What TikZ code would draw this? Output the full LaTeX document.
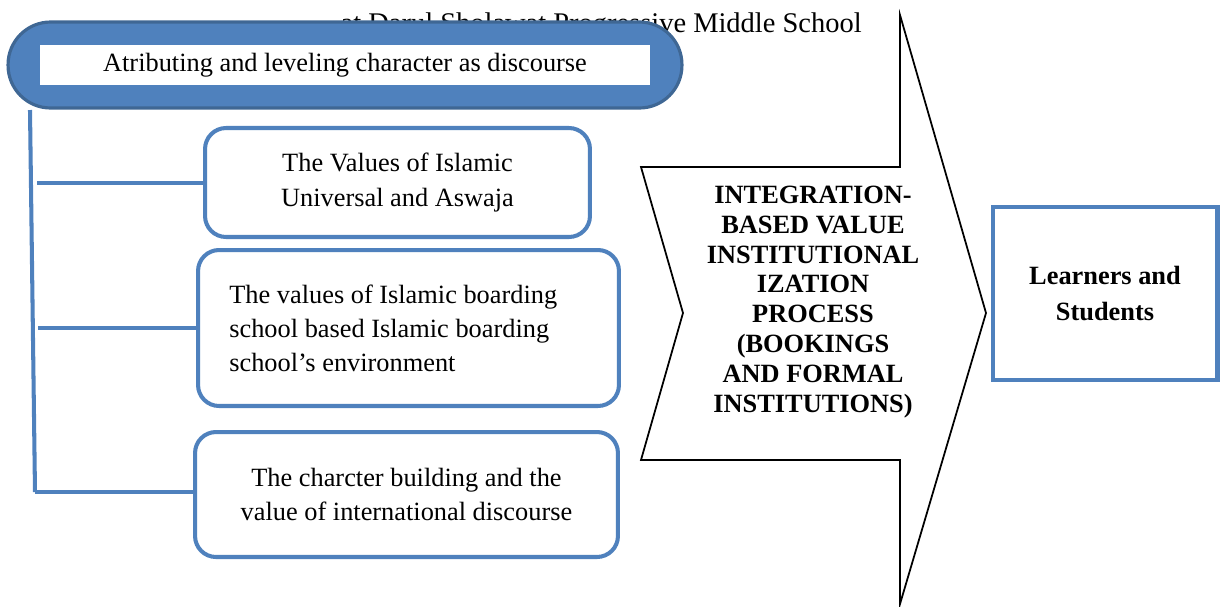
\documentclass[tikz,border=0pt]{standalone}
\usepackage{fontspec}
\setmainfont{Liberation Serif}
\usetikzlibrary{positioning}
\definecolor{boxblue}{HTML}{4F81BD}
\definecolor{rimblue}{HTML}{3F6794}
\tikzset{
  valbox/.style={draw=boxblue, line width=2.3pt, rounded corners=0.42cm, fill=white},
  linkline/.style={draw=boxblue, line width=2.3pt},
  bodytext/.style={font=\fontsize{15}{19.4}\selectfont, align=center, inner sep=0pt}
}
\begin{document}
\begin{tikzpicture}[x=0.02cm, y=-0.02cm]
  \useasboundingbox (0,0) rectangle (1220,606);
  % caption line running behind the header
  \node[anchor=base east, inner sep=0pt, font=\fontsize{16.2}{19}\selectfont] (caption) at (862,32) {at Darul Sholawat Progressive Middle School};
  % header pill
  \node[draw=rimblue, line width=1.8pt, fill=boxblue, rounded corners=0.85cm,
        minimum width=13.48cm, minimum height=1.72cm] (head) at (345,65) {};
  \node[fill=white, minimum width=12.2cm, minimum height=0.8cm, bodytext] (headtext) at (345,65)
        {Atributing and leveling character as discourse};
  % the three value boxes
  \node[valbox, minimum width=7.7cm, minimum height=2.18cm] (universal) at (397.5,182.5) {};
  \node[bodytext] at (universal.center) {The Values of Islamic\\Universal and Aswaja};
  \node[valbox, minimum width=8.42cm, minimum height=3.12cm] (boarding) at (408.5,328) {};
  \node[bodytext, align=left, anchor=west] at (229,328) {The values of Islamic boarding\\school based Islamic boarding\\school’s environment};
  \node[valbox, minimum width=8.46cm, minimum height=2.5cm] (global) at (406.5,494.5) {};
  \node[bodytext] at (global.center) {The charcter building and the\\value of international discourse};
  % spine and branches
  \coordinate (spinetop) at (30,110);
  \coordinate (spinebot) at (35,492);
  \coordinate (b1) at (37,183);
  \coordinate (b2) at (38,328);
  \coordinate (b3) at (35,492);
  \draw[linkline] (spinetop) -- (spinebot);
  \draw[linkline] (b1) -- (b1 -| universal.west);
  \draw[linkline] (b2) -- (b2 -| boarding.west);
  \draw[linkline] (b3) -- (b3 -| global.west);
  % process arrow
  \draw[line width=1pt, fill=white] (641,167) -- (900,167) -- (900,15) -- (986,313) -- (900,604)
        -- (900,460) -- (641,460) -- (683,313) -- cycle;
  \node[bodytext, font=\fontsize{15}{17}\bfseries] (process) at (813,302)
        {INTEGRATION-\\BASED VALUE\\INSTITUTIONAL\\IZATION\\PROCESS\\(BOOKINGS\\AND FORMAL\\INSTITUTIONS)};
  % result box
  \node[draw=boxblue, line width=2.3pt, minimum width=4.5cm, minimum height=3.46cm,
        bodytext, font=\fontsize{15}{20}\bfseries] (learners) at (1105,293.5) {Learners and\\Students};
\end{tikzpicture}
\end{document}
